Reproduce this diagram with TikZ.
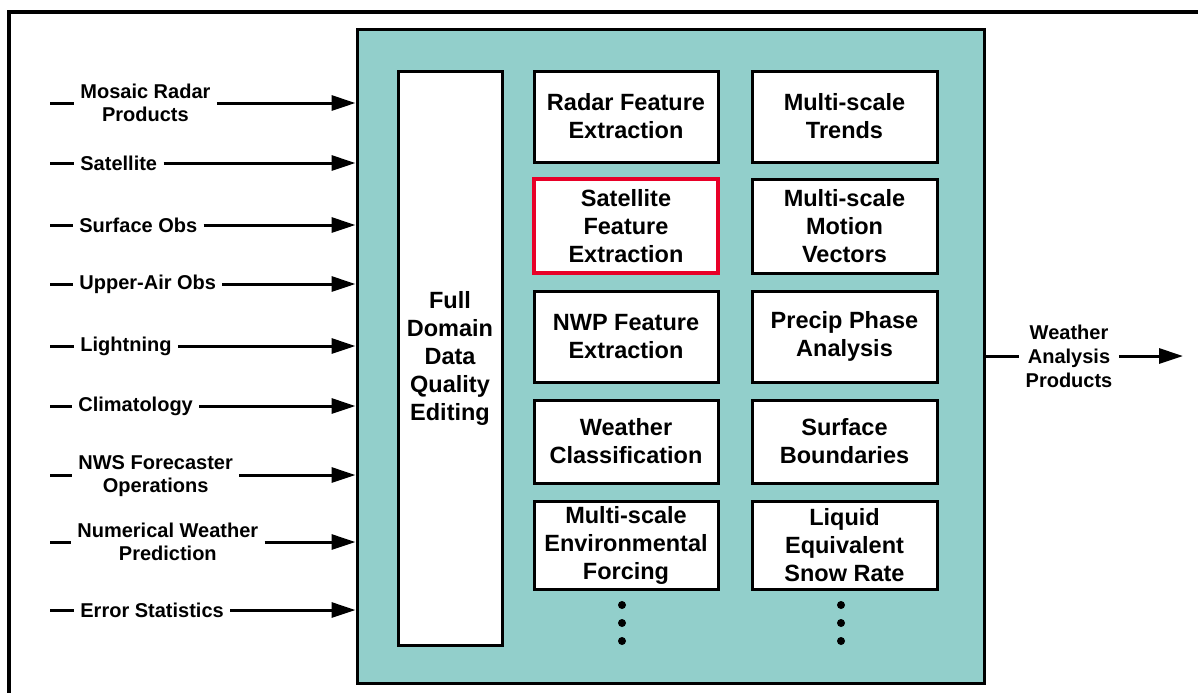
\documentclass[tikz,border=0pt]{standalone}
\usepackage{fontspec}
\setmainfont{Liberation Sans}
\usetikzlibrary{arrows.meta}
\definecolor{tealbg}{RGB}{146,207,203}
\definecolor{redb}{RGB}{232,0,40}
\begin{document}
\begin{tikzpicture}[x=0.5pt,y=-0.5pt,
  fbox/.style={draw=black, line width=1.5pt, fill=white, inner sep=0pt, align=center,
    font=\fontsize{11.75}{14}\selectfont\bfseries},
  inlab/.style={align=center, inner sep=3pt, font=\fontsize{10}{11.5}\selectfont\bfseries},
  arr/.style={line width=1.5pt, -{Triangle[length=12pt,width=7.5pt]}},
  ln/.style={line width=1.5pt},
  col1/.style={minimum width=92pt},
  col2/.style={minimum width=92.5pt}]
\clip (0,0) rectangle (1198,692);
\fill[white] (0,0) rectangle (1198,692);
\draw[line width=1.6pt] (9,12) rectangle (1240,720);
% main teal box
\node[draw, line width=1.5pt, fill=tealbg, minimum width=313.5pt, minimum height=327pt, inner sep=0pt] (main) at (670.5,356.5) {};
% full domain
\node[fbox, minimum width=52pt, minimum height=287pt] (fdq) at (450,358) {Full\\Domain\\Data\\Quality\\Editing};
% column 1
\node[fbox, col1, minimum height=45.5pt] (radar) at (626,116.5) {Radar Feature\\Extraction};
\node[fbox, col1, minimum height=47pt, draw=redb, line width=2.3pt] (sat) at (626,226) {Satellite\\Feature\\Extraction};
\node[fbox, col1, minimum height=45.5pt] (nwp) at (626,336.5) {NWP Feature\\Extraction};
\node[fbox, col1, minimum height=41.5pt] (wxc) at (626,441.5) {Weather\\Classification};
\node[fbox, col1, minimum height=44pt] (env) at (626,545) {Multi-scale\\Environmental\\Forcing};
% column 2
\node[fbox, col2, minimum height=45.5pt] (trends) at (844.5,116.5) {Multi-scale\\Trends};
\node[fbox, col2, minimum height=47pt] (motion) at (844.5,226) {Multi-scale\\Motion\\Vectors};
\node[fbox, col2, minimum height=45.5pt] (precip) at (844.5,336.5) {Precip Phase\\Analysis};
\node[fbox, col2, minimum height=41.5pt] (sfcb) at (844.5,441.5) {Surface\\Boundaries};
\node[fbox, col2, minimum height=44pt] (lesr) at (844.5,545) {Liquid\\Equivalent\\Snow Rate};
% dots
\foreach \yy in {605,623,641} {
  \fill (622,\yy) circle (2pt);
  \fill (841,\yy) circle (2pt);
}
% inputs
\node[inlab, anchor=west] (in1) at (74,103) {Mosaic Radar\\Products};
\node[inlab, anchor=west] (in2) at (74,163) {Satellite};
\node[inlab, anchor=west] (in3) at (73,225) {Surface Obs};
\node[inlab, anchor=west] (in4) at (73,284) {Upper-Air Obs};
\node[inlab, anchor=west] (in5) at (74,346) {Lightning};
\node[inlab, anchor=west] (in6) at (72,406) {Climatology};
\node[inlab, anchor=west] (in7) at (72,476) {NWS Forecaster\\Operations};
\node[inlab, anchor=west] (in8) at (71,542) {Numerical Weather\\Prediction};
\node[inlab, anchor=west] (in9) at (74,610) {Error Statistics};
\foreach \i/\yy in {1/103,2/163,3/225,4/284,5/346,6/406,7/475,8/542,9/610} {
  \coordinate (s\i) at (50,\yy);
  \draw[ln] (s\i) -- (s\i -| in\i.west);
  \draw[arr] (s\i -| in\i.east) -- (s\i -| main.west);
}
% output
\node[inlab, font=\fontsize{10}{12}\selectfont\bfseries] (out) at (1069,356) {Weather\\Analysis\\Products};
\coordinate (oend) at (1183,356);
\draw[ln] (oend -| main.east) -- (oend -| out.west);
\draw[arr] (oend -| out.east) -- (oend);
\end{tikzpicture}
\end{document}
